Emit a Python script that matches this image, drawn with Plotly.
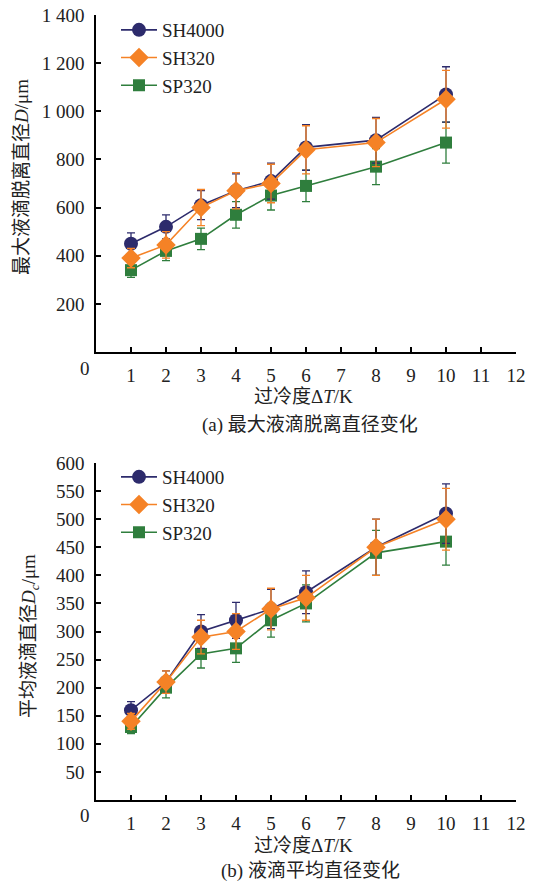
import plotly.graph_objects as go

# ---- data ----
dT = [1, 2, 3, 4, 5, 6, 8, 10]

sh4000_max = [450, 520, 610, 670, 710, 850, 880, 1070]
sh4000_max_err = [45, 50, 60, 70, 75, 95, 95, 115]
sh320_max = [390, 445, 600, 670, 700, 840, 870, 1050]
sh320_max_err = [40, 55, 75, 75, 80, 100, 100, 120]
sp320_max = [340, 420, 470, 570, 650, 690, 770, 870]
sp320_max_err = [30, 40, 45, 55, 60, 65, 75, 85]

sh4000_avg = [160, 210, 300, 320, 340, 370, 450, 510]
sh4000_avg_err = [15, 20, 30, 32, 35, 38, 50, 53]
sh320_avg = [140, 210, 290, 300, 340, 360, 450, 500]
sh320_avg_err = [14, 20, 30, 32, 37, 40, 50, 55]
sp320_avg = [130, 200, 260, 270, 320, 350, 440, 460]
sp320_avg_err = [12, 18, 25, 25, 30, 33, 40, 42]

x_ticks = list(range(1, 13))
y1_ticks = [200, 400, 600, 800, 1000, 1200, 1400]
y1_ticktext = ["200", "400", "600", "800", "1 000", "1 200", "1 400"]
y2_ticks = list(range(50, 601, 50))

W, H = 539, 886
FONT = "Times New Roman, Liberation Serif, Noto Sans CJK SC, serif"
NAVY = "#2D2B6C"
ORANGE = "#F58226"
GREEN = "#2F7E3D"

def px(x):
    return x / W

def py(y):
    return 1 - y / H

series = [
    # name, color, symbol, size, rank
    ("SP320", GREEN, "square", 12, 3),
    ("SH4000", NAVY, "circle", 14, 1),
    ("SH320", ORANGE, "diamond", 15, 2),
]
top_data = {"SH4000": (sh4000_max, sh4000_max_err),
            "SH320": (sh320_max, sh320_max_err),
            "SP320": (sp320_max, sp320_max_err)}
bot_data = {"SH4000": (sh4000_avg, sh4000_avg_err),
            "SH320": (sh320_avg, sh320_avg_err),
            "SP320": (sp320_avg, sp320_avg_err)}

fig = go.Figure()
for name, col, sym, size, rank in series:
    y, e = top_data[name]
    fig.add_trace(go.Scatter(
        x=dT, y=y, name=name, mode="lines+markers",
        line=dict(color=col, width=1.6),
        marker=dict(symbol=sym, size=size, color=col, line=dict(width=0)),
        error_y=dict(type="data", array=e, color=col, thickness=1.3, width=4),
        xaxis="x", yaxis="y", legend="legend", legendrank=rank,
    ))
for name, col, sym, size, rank in series:
    y, e = bot_data[name]
    fig.add_trace(go.Scatter(
        x=dT, y=y, name=name, mode="lines+markers",
        line=dict(color=col, width=1.6),
        marker=dict(symbol=sym, size=size, color=col, line=dict(width=0)),
        error_y=dict(type="data", array=e, color=col, thickness=1.3, width=4),
        xaxis="x2", yaxis="y2", legend="legend2", legendrank=rank,
    ))

axis_common = dict(
    showline=True, linecolor="black", linewidth=1.6,
    ticks="inside", ticklen=5, tickwidth=1.5, tickcolor="black",
    showgrid=False, zeroline=False, automargin=False,
    tickfont=dict(family=FONT, size=19, color="#222"),
)

legend_common = dict(xanchor="left", yanchor="top", bgcolor="rgba(0,0,0,0)",
                     tracegroupgap=0, itemwidth=36,
                     font=dict(family=FONT, size=19, color="#222"))

xd = [px(96), px(516)]
fig.update_layout(
    width=W, height=H,
    margin=dict(l=0, r=0, t=0, b=0),
    paper_bgcolor="white", plot_bgcolor="white",
    showlegend=True,
    xaxis=dict(domain=xd, range=[0, 12], tickvals=x_ticks, anchor="y",
               ticklabelstandoff=5, **axis_common),
    yaxis=dict(domain=[py(352), py(15)], range=[0, 1400], tickvals=y1_ticks,
               ticktext=y1_ticktext, anchor="x", ticklabelstandoff=6, **axis_common),
    xaxis2=dict(domain=xd, range=[0, 12], tickvals=x_ticks, anchor="y2",
                ticklabelstandoff=5, **axis_common),
    yaxis2=dict(domain=[py(800), py(463)], range=[0, 600], tickvals=y2_ticks,
                anchor="x2", ticklabelstandoff=6, **axis_common),
    legend=dict(x=px(116), y=py(11), **legend_common),
    legend2=dict(x=px(116), y=py(458), **legend_common),
)

ann_font = dict(family=FONT, size=19, color="#222")
annotations = [
    dict(x=px(85), y=py(368), text="0"),
    dict(x=px(85), y=py(815), text="0"),
    dict(x=px(303), y=py(396), text="过冷度Δ<i>T</i>/K"),
    dict(x=px(303), y=py(845), text="过冷度Δ<i>T</i>/K"),
    dict(x=px(310), y=py(425), text="(a) 最大液滴脱离直径变化"),
    dict(x=px(310), y=py(871), text="(b) 液滴平均直径变化"),
    dict(x=px(21), y=py(177), text="最大液滴脱离直径<i>D</i>/μm", textangle=-90),
    dict(x=px(30), y=py(636), text="平均液滴直径<i>D</i><sub><i>c</i></sub>/μm", textangle=-90),
]
for a in annotations:
    fig.add_annotation(xref="paper", yref="paper", showarrow=False,
                       xanchor="center", yanchor="middle", font=ann_font, **a)

fig.write_html("out.html", config={"displayModeBar": False},
               post_script="document.body.style.margin='0';document.body.style.overflow='hidden';")
